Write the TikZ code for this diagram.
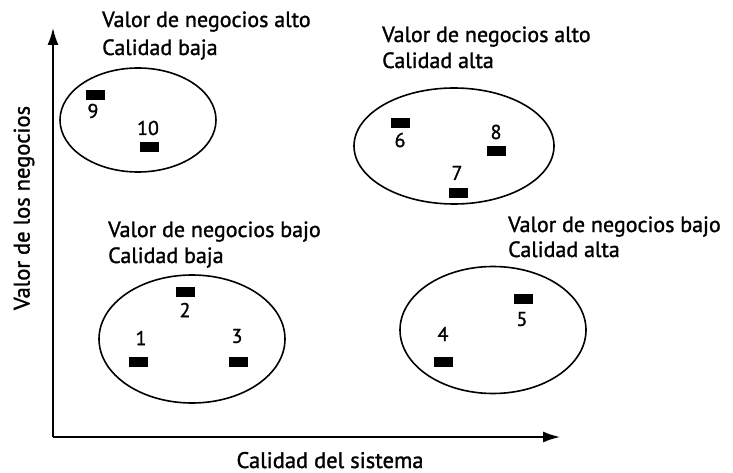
\documentclass[tikz,border=0pt]{standalone}
\usepackage{fontspec}
\setmainfont{PT Sans}[FakeBold=1.3]
\usetikzlibrary{arrows.meta,shapes.geometric}
\begin{document}
\begin{tikzpicture}[x=1pt,y=-1pt,
  sys/.style={fill=black,minimum width=19pt,minimum height=10pt,inner sep=0pt},
  num/.style={font=\fontsize{20}{24}\selectfont,inner sep=0pt},
  grp/.style={draw,line width=1.6pt,ellipse,inner sep=0pt},
  lbl/.style={font=\fontsize{22}{26}\selectfont,anchor=base west,inner sep=0pt},
  axlbl/.style={font=\fontsize{22.5}{26}\selectfont,inner sep=0pt},
  axis/.style={line width=1.6pt,-{Latex[length=17pt,width=11pt]}}]
\useasboundingbox (0,0) rectangle (733,473);
% axes
\coordinate (o) at (53,437);
\coordinate (ytop) at (53,28);
\coordinate (xend) at (560,437);
\draw[axis] (o) -- (ytop);
\draw[axis] (o) -- (xend);
\node[axlbl,anchor=base] (xl) at (330,468) {Calidad del sistema};
\node[axlbl,rotate=90] (yl) at (24,208) {Valor de los negocios};
% ellipses
\node[grp,minimum width=156pt,minimum height=104pt] (e1) at (138,120) {};
\node[grp,minimum width=200pt,minimum height=116pt] (e2) at (454,146) {};
\node[grp,minimum width=186pt,minimum height=128pt] (e3) at (192,339) {};
\node[grp,minimum width=186pt,minimum height=127pt] (e4) at (493,330) {};
% group labels
\node[lbl] (t1a) at (102,27) {Valor de negocios alto};
\node[lbl] (t1b) at (102,55) {Calidad baja};
\node[lbl] (t2a) at (382,42) {Valor de negocios alto};
\node[lbl] (t2b) at (382,68) {Calidad alta};
\node[lbl] (t3a) at (108,237) {Valor de negocios bajo};
\node[lbl] (t3b) at (108,263) {Calidad baja};
\node[lbl] (t4a) at (508,232) {Valor de negocios bajo};
\node[lbl] (t4b) at (508,257) {Calidad alta};
% systems
\node[sys] (s9) at (95,95) {};   \node[num] (n9) at (93,111) {9};
\node[sys] (s10) at (149,147) {}; \node[num] (n10) at (148,128) {10};
\node[sys] (s6) at (400,123) {};  \node[num] (n6) at (400,140) {6};
\node[sys] (s8) at (496,151) {};  \node[num] (n8) at (496,132) {8};
\node[sys] (s7) at (458,193) {};  \node[num] (n7) at (457,173) {7};
\node[sys] (s2) at (185,292) {};  \node[num] (n2) at (185,310) {2};
\node[sys] (s1) at (138,362) {};  \node[num] (n1) at (141,338) {1};
\node[sys] (s3) at (238,362) {};  \node[num] (n3) at (237,336) {3};
\node[sys] (s5) at (523,299) {};  \node[num] (n5) at (522,319) {5};
\node[sys] (s4) at (443,362) {};  \node[num] (n4) at (443,334) {4};
\end{tikzpicture}
\end{document}
